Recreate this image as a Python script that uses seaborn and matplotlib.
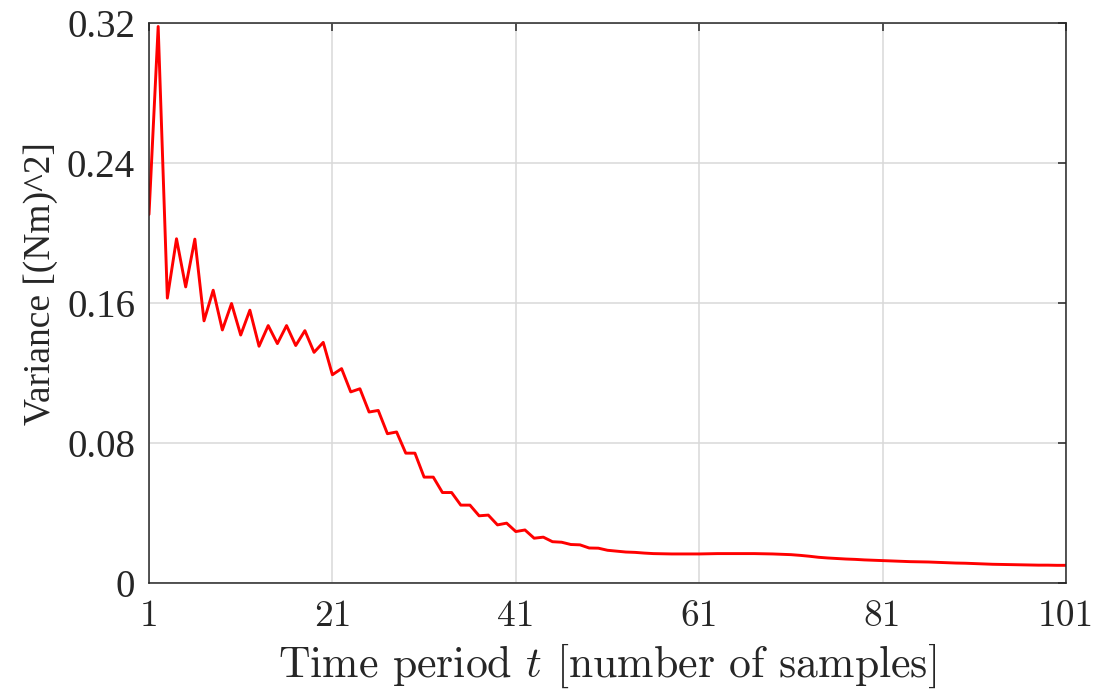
import numpy as np
import pandas as pd
import matplotlib
matplotlib.use("Agg")
import matplotlib.pyplot as plt
import seaborn as sns

# 시간 구간 (샘플 번호)
t = list(range(1, 102))

# 분산 값
variance = [
    0.2106, 0.3180, 0.1628, 0.1967, 0.1692, 0.1965, 0.1498, 0.1673, 0.1446, 0.1597,
    0.1417, 0.1559, 0.1353, 0.1471, 0.1368, 0.1471, 0.1357, 0.1442, 0.1318, 0.1375,
    0.1190, 0.1225, 0.1092, 0.1110, 0.0977, 0.0986, 0.0853, 0.0863, 0.0742, 0.0742,
    0.0605, 0.0605, 0.0517, 0.0517, 0.0445, 0.0445, 0.0384, 0.0388, 0.0332, 0.0342,
    0.0294, 0.0303, 0.0256, 0.0262, 0.0236, 0.0233, 0.0220, 0.0218, 0.0200, 0.0199,
    0.0187, 0.0182, 0.0177, 0.0175, 0.0171, 0.0168, 0.0167, 0.0166, 0.0166, 0.0166,
    0.0166, 0.0167, 0.0168, 0.0168, 0.0168, 0.0168, 0.0168, 0.0167, 0.0166, 0.0164,
    0.0162, 0.0158, 0.0153, 0.0147, 0.0143, 0.0140, 0.0137, 0.0135, 0.0132, 0.0130,
    0.0128, 0.0126, 0.0124, 0.0122, 0.0121, 0.0120, 0.0118, 0.0116, 0.0114, 0.0113,
    0.0111, 0.0109, 0.0107, 0.0106, 0.0105, 0.0104, 0.0103, 0.0102, 0.0102, 0.0101,
    0.0101,
]

x_ticks = [1, 21, 41, 61, 81, 101]
x_tick_labels = ["1", "21", "41", "61", "81", "101"]
y_ticks = [0, 0.08, 0.16, 0.24, 0.32]
y_tick_labels = ["0", "0.08", "0.16", "0.24", "0.32"]

sns.set_theme(style="white")
plt.rcParams["mathtext.fontset"] = "cm"
plt.rcParams["font.family"] = ["Liberation Serif", "DejaVu Serif"]

df = pd.DataFrame({"t": t, "variance": variance})

fig = plt.figure(figsize=(10.98, 6.97), dpi=100)
ax = fig.add_axes([149 / 1098, 1 - 583 / 697, (1066 - 149) / 1098, (583 - 23) / 697])

sns.lineplot(data=df, x="t", y="variance", color="#ff0000", linewidth=2.1, ax=ax)

ax.set_xlim(1, 101)
ax.set_ylim(0, 0.32)
ax.set_xticks(x_ticks)
ax.set_xticklabels(x_tick_labels, fontfamily="cmr10", fontsize=27)
ax.set_yticks(y_ticks)
ax.set_yticklabels(y_tick_labels, fontsize=28)

ax.grid(True, color="#d9d9d9", linewidth=1.1)
for s in ax.spines.values():
    s.set_color("#262626")
    s.set_linewidth(1.1)
ax.tick_params(direction="in", length=6, width=1.1, color="#262626",
               top=True, right=True, labelcolor="#262626")
ax.tick_params(axis="x", pad=12)
ax.tick_params(axis="y", pad=10)

ax.set_xlabel("Time period $t$ [number of samples]", fontfamily="cmr10",
              fontsize=31.5, color="#262626", labelpad=6)
ax.set_ylabel("Variance [(Nm)^2]", fontsize=27, color="#262626")
ax.yaxis.set_label_coords(-0.099, 0.535)

fig.savefig("out.png", dpi=100)
